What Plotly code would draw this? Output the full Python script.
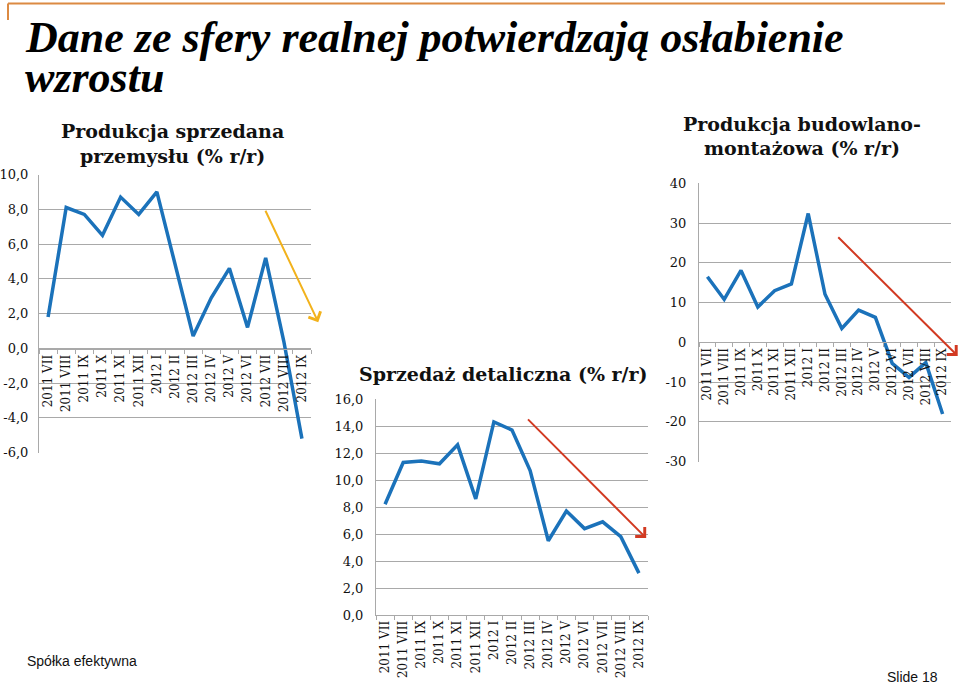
import plotly.graph_objects as go

W, H = 960, 686

months = ["2011 VII", "2011 VIII", "2011 IX", "2011 X", "2011 XI", "2011 XII",
          "2012 I", "2012 II", "2012 III", "2012 IV", "2012 V", "2012 VI",
          "2012 VII", "2012 VIII", "2012 IX"]

industry = [1.8, 8.1, 7.7, 6.5, 8.7, 7.7, 9.0, 4.9, 0.7, 2.9, 4.6, 1.2, 5.2, 0.4, -5.2]
retail = [8.2, 11.3, 11.4, 11.2, 12.6, 8.6, 14.3, 13.7, 10.7, 5.5, 7.7, 6.4, 6.9, 5.8, 3.1]
construction = [16.5, 10.8, 18.1, 8.9, 13.0, 14.7, 32.4, 12.1, 3.5, 8.1, 6.3, -5.3, -8.8, -5.1, -18.0]

ind_ticks = [-6, -4, -2, 0, 2, 4, 6, 8, 10]
ind_ticktext = ["-6,0", "-4,0", "-2,0", "0,0", "2,0", "4,0", "6,0", "8,0", "10,0"]
ret_ticks = [0, 2, 4, 6, 8, 10, 12, 14, 16]
ret_ticktext = ["0,0", "2,0", "4,0", "6,0", "8,0", "10,0", "12,0", "14,0", "16,0"]
con_ticks = [-30, -20, -10, 0, 10, 20, 30, 40]
con_ticktext = ["-30", "-20", "-10", "0", "10", "20", "30", "40"]

title_main_1 = "Dane ze sfery realnej potwierdzają osłabienie"
title_main_2 = "wzrostu"
t1 = ["Produkcja sprzedana", "przemysłu (% r/r)"]
t2 = "Sprzedaż detaliczna (% r/r)"
t3 = ["Produkcja budowlano-", "montażowa (% r/r)"]

BLUE = "#1b72ba"
GRID = "#a9a9a9"
SERIF = "DejaVu Serif"


def px(x):
    return x / W


def py(y):
    return 1 - y / H


fig = go.Figure()
fig.add_trace(go.Scatter(x=months, y=industry, mode="lines", line=dict(color=BLUE, width=3.5),
                         xaxis="x", yaxis="y", showlegend=False))
fig.add_trace(go.Scatter(x=months, y=retail, mode="lines", line=dict(color=BLUE, width=3.5),
                         xaxis="x2", yaxis="y2", showlegend=False))
fig.add_trace(go.Scatter(x=months, y=construction, mode="lines", line=dict(color=BLUE, width=3.5),
                         xaxis="x3", yaxis="y3", showlegend=False))

tickfont = dict(family=SERIF, size=12, color="#111111")
yfont = dict(family=SERIF, size=13, color="#111111")


def xaxis_cfg(domain, anchor, position=None):
    d = dict(domain=domain, type="category", range=[-0.5, 14.5], tickangle=-90,
             tickfont=tickfont, showline=True, linecolor=GRID, linewidth=1,
             ticks="outside", ticklen=4, tickcolor=GRID, tickson="boundaries",
             showgrid=False, zeroline=False, fixedrange=True, automargin=False)
    if position is not None:
        d["anchor"] = "free"
        d["position"] = position
    else:
        d["anchor"] = anchor
    return d


def yaxis_cfg(domain, anchor, rng, tv, tt, standoff=9):
    return dict(domain=domain, anchor=anchor, range=rng, tickvals=tv, ticktext=tt,
                tickfont=yfont, showline=True, linecolor=GRID, linewidth=1,
                showgrid=True, gridcolor=GRID, gridwidth=1, zeroline=False,
                ticks="", ticklabelstandoff=standoff, fixedrange=True, automargin=False)


fig.update_layout(
    width=W, height=H, margin=dict(l=0, r=0, t=0, b=0, autoexpand=False),
    paper_bgcolor="white", plot_bgcolor="white",
    xaxis=xaxis_cfg([px(39), px(311)], "y", position=py(349)),
    yaxis=yaxis_cfg([py(452.5), py(174.5)], "x", [-6, 10], ind_ticks, ind_ticktext, standoff=7),
    xaxis2=xaxis_cfg([px(376), px(648)], "y2"),
    yaxis2=yaxis_cfg([py(615), py(399)], "x2", [0, 16], ret_ticks, ret_ticktext),
    xaxis3=xaxis_cfg([px(699), px(951)], "y3", position=py(342.3)),
    yaxis3=yaxis_cfg([py(461.7), py(183.3)], "x3", [-30, 40], con_ticks, con_ticktext),
)

ann = []


def text(x, y, s, size, family=SERIF, bold=False, italic=False, xanchor="center", color="#111111"):
    if bold:
        s = "<b>" + s + "</b>"
    if italic:
        s = "<i>" + s + "</i>"
    ann.append(dict(xref="paper", yref="paper", x=px(x), y=py(y), text=s, showarrow=False,
                    xanchor=xanchor, yanchor="middle", font=dict(family=family, size=size, color=color)))


text(23, 38, title_main_1, 44, family="Liberation Serif", bold=True, italic=True, xanchor="left", color="#000000")
text(23, 77, title_main_2, 44, family="Liberation Serif", bold=True, italic=True, xanchor="left", color="#000000")
text(172, 131, t1[0], 19, bold=True)
text(172, 156, t1[1], 19, bold=True)
text(503, 374, t2, 19, bold=True)
text(802, 124, t3[0], 19, bold=True)
text(802, 148, t3[1], 19, bold=True)
text(25, 661, "Spółka efektywna", 14, family="Liberation Sans", xanchor="left")
text(940, 677, "Slide 18", 14, family="Liberation Sans", xanchor="right")

# trend arrows
ann.append(dict(xref="x", yref="y", axref="x", ayref="y", x=14.9, y=1.5, ax=11.95, ay=8.0,
                text="", showarrow=True, arrowhead=4, arrowsize=1.3, arrowwidth=2, arrowcolor="#f2b21c"))
ann.append(dict(xref="x2", yref="y2", axref="x2", ayref="y2", x=14.4, y=5.7, ax=7.8, ay=14.6,
                text="", showarrow=True, arrowhead=4, arrowsize=1.3, arrowwidth=2, arrowcolor="#d23a22"))
ann.append(dict(xref="x3", yref="y3", axref="x3", ayref="y3", x=14.9, y=-3.4, ax=7.7, ay=26.8,
                text="", showarrow=True, arrowhead=4, arrowsize=1.3, arrowwidth=2, arrowcolor="#d23a22"))

fig.update_layout(annotations=ann)

# decorative orange frame line at top
fig.add_shape(type="line", xref="paper", yref="paper", x0=px(8), x1=px(945), y0=py(3.5), y1=py(3.5),
              line=dict(color="#dc8a42", width=2))
fig.add_shape(type="line", xref="paper", yref="paper", x0=px(8), x1=px(8), y0=py(3.5), y1=py(20),
              line=dict(color="#dc8a42", width=2))

fig.write_html("out.html", config={"displayModeBar": False},
               post_script="document.body.style.margin='0';document.body.style.overflow='hidden';")
